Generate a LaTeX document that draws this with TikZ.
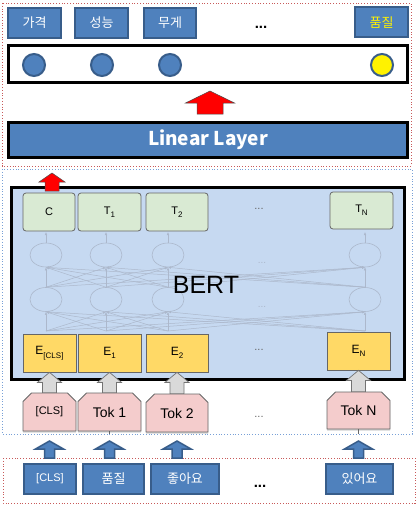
\documentclass[tikz,border=0pt]{standalone}
\usepackage{fontspec}
\setmainfont{Liberation Sans}
\newfontfamily\kor{Noto Sans CJK KR}
\usetikzlibrary{arrows.meta, calc, shapes.misc, shapes.geometric, shadows}

\definecolor{boxblue}{RGB}{79,129,189}
\definecolor{boxedge}{RGB}{56,93,138}
\definecolor{bertfill}{RGB}{198,217,241}
\definecolor{tgreen}{RGB}{217,234,211}
\definecolor{eyellow}{RGB}{255,217,102}
\definecolor{tokpink}{RGB}{244,204,204}
\definecolor{boxgrey}{RGB}{102,102,102}
\definecolor{netgrey}{RGB}{172,184,204}
\definecolor{arrowgrey}{RGB}{217,217,217}
\definecolor{framered}{RGB}{200,90,90}
\definecolor{frameblue}{RGB}{120,160,215}

% Lowered index for the token labels.
\newcommand{\lowidx}[1]{\raisebox{-0.55ex}{\fontsize{8}{8}\selectfont #1}}

% Fat upward arrow: style, base, tip, shaft half width, head half width, head length.
\newcommand{\blockup}[6]{%
    \path[#1] let \p1 = (#2), \p2 = (#3) in
        (\x1-#4, \y1) -- (\x1-#4, \y2-#6) -- (\x1-#5, \y2-#6) -- (\x1, \y2)
        -- (\x1+#5, \y2-#6) -- (\x1+#4, \y2-#6) -- (\x1+#4, \y1) -- cycle;
}

\begin{document}
\begin{tikzpicture}[%
        x = 1pt,
        y = -1pt,
        > = Latex,
        line join = miter,
        wordbox/.style = {%
            draw = boxedge,
            fill = boxblue,
            line width = 2pt,
            text = white,
            minimum height = 30pt,
            inner sep = 0pt,
            font = \kor\fontsize{13}{15}\selectfont
        },
        slot/.style = {circle, draw = boxedge, fill = boxblue, line width = 2pt,
            minimum size = 22pt, inner sep = 0pt},
        bigbar/.style = {draw = black, line width = 3pt, minimum width = 399pt, inner sep = 0pt},
        outbox/.style = {rounded corners = 3pt, draw = boxgrey, line width = 0.8pt, fill = tgreen,
            inner sep = 0pt, font = \fontsize{11}{13}\selectfont},
        embbox/.style = {draw = boxgrey, line width = 0.8pt, fill = eyellow,
            inner sep = 0pt, font = \fontsize{12}{14}\selectfont},
        tokbox/.style = {%
            chamfered rectangle,
            chamfered rectangle corners = {north west, north east},
            chamfered rectangle xsep = 5pt,
            draw = boxgrey,
            line width = 0.8pt,
            fill = tokpink,
            inner sep = 0pt,
            drop shadow = {shadow xshift = 0pt, shadow yshift = -1.5pt, opacity = 0.35},
            font = \fontsize{14}{16}\selectfont
        },
        netnode/.style = {ellipse, draw = netgrey, line width = 0.6pt,
            minimum width = 32pt, minimum height = 24pt, inner sep = 0pt},
        netline/.style = {draw = netgrey, line width = 0.5pt, -{Latex[length = 3pt, width = 2.5pt]}},
        redarrow/.style = {fill = red, draw = black!70, line width = 0.5pt},
        greyarrow/.style = {fill = arrowgrey, draw = black!55, line width = 0.7pt},
        bluearrow/.style = {fill = boxblue, draw = boxedge, line width = 1.5pt},
        gdots/.style = {text = black!60, font = \fontsize{11}{11}\selectfont},
        bdots/.style = {font = \bfseries\fontsize{15}{15}\selectfont}
    ]

        \begingroup

            \useasboundingbox (0, 0) rectangle (416, 511);

            % Coordinates
            \coordinate (redB) at (210, 114);
            \coordinate (redT) at (210, 91);
            \coordinate (clsB) at (52, 191);
            \coordinate (clsT) at (52, 173);
            \coordinate (wordTop) at (0, 458);
            \coordinate (arrTip) at (0, 441);
            \coordinate (midFoot) at (0, 434);

            % Dotted frames round the three parts.
            \draw[framered, dotted, line width = 0.8pt] (2, 3) rectangle (411, 166);
            \draw[frameblue, dotted, line width = 0.8pt] (2, 169) rectangle (412, 434);
            \draw[framered, dotted, line width = 0.8pt] (3, 458) rectangle (415, 503);

            % Class labels on top.
            \node[wordbox, minimum width = 53pt] (lab1) at (34.5, 23) {가격};
            \node[wordbox, minimum width = 53pt] (lab2) at (101.5, 23) {성능};
            \node[wordbox, minimum width = 52pt] (lab3) at (170, 23) {무게};
            \node[wordbox, minimum width = 53pt, text = yellow] (labN) at (381.5, 22.5) {품질};
            \node[bdots] (labdots) at (261, 27) {...};

            % Output layer with one slot per class.
            \node[bigbar, minimum height = 37pt, fill = white] (outrow) at (208, 64) {};
            \node[slot] (s1) at (34, 65) {};
            \node[slot] (s2) at (102, 65) {};
            \node[slot] (s3) at (170, 65) {};
            \node[slot, fill = yellow] (sN) at (382, 65) {};

            % Linear layer.
            \node[bigbar, minimum height = 35pt, fill = boxblue, text = white,
                font = \kor\bfseries\fontsize{19}{21}\selectfont] (lin) at (208, 140) {Linear Layer};
            \blockup{redarrow}{redB}{redT}{13pt}{24.5pt}{12pt}

            % BERT block.
            \node[draw = black, line width = 3pt, fill = bertfill, minimum width = 393pt,
                minimum height = 192pt, inner sep = 0pt] (bert) at (208, 283.5) {};

            % Faint layers inside BERT.
            \foreach \i/\cx in {1/46, 2/106, 3/168, 4/365} {
                \node[netnode] (h1\i) at (\cx, 255) {};
                \node[netnode] (h2\i) at (\cx, 299.5) {};
                \coordinate (in\i) at (\cx, 331);
                \coordinate (out\i) at (\cx, 232);
            }
            \foreach \i in {1, ..., 4} {
                \foreach \j in {1, ..., 4} {
                    \draw[netline] (in\j) -- (h2\i.south);
                    \draw[netline] (h2\j.north) -- (h1\i.south);
                }
                \draw[netline] (h1\i.north) -- (out\i);
            }
            \node[text = netgrey, font = \fontsize{10}{10}\selectfont] (ndots1) at (262, 263) {...};
            \node[text = netgrey, font = \fontsize{10}{10}\selectfont] (ndots2) at (262, 307) {...};
            \node[font = \fontsize{25}{25}\selectfont] (bertlab) at (206, 285) {BERT};

            % Output tokens.
            \node[outbox, minimum width = 52pt, minimum height = 38pt] (tC) at (49, 212) {C};
            \node[outbox, minimum width = 63pt, minimum height = 38pt] (t1) at (109.5, 212) {T\lowidx{1}};
            \node[outbox, minimum width = 62pt, minimum height = 38pt] (t2) at (177, 212) {T\lowidx{2}};
            \node[outbox, minimum width = 63pt, minimum height = 37pt] (tN) at (361.5, 210.5) {T\lowidx{N}};
            \node[gdots] (tdots) at (259, 209) {...};
            \blockup{redarrow}{clsB}{clsT}{7pt}{13pt}{9pt}

            % Input embeddings.
            \node[embbox, minimum width = 53pt, minimum height = 38pt] (e0) at (49.5, 353) {E\lowidx{[CLS]}};
            \node[embbox, minimum width = 63pt, minimum height = 38pt] (e1) at (109.5, 353) {E\lowidx{1}};
            \node[embbox, minimum width = 62pt, minimum height = 38pt] (e2) at (177, 353) {E\lowidx{2}};
            \node[embbox, minimum width = 63pt, minimum height = 38pt] (eN) at (358.5, 351) {E\lowidx{N}};
            \node[gdots] (edots) at (259, 350) {...};

            % Word pieces.
            \node[tokbox, minimum width = 53pt, minimum height = 38pt, font = \fontsize{11}{13}\selectfont] (tok0) at (49.5, 412) {[CLS]};
            \node[tokbox, minimum width = 63pt, minimum height = 38pt] (tok1) at (109.5, 412) {Tok 1};
            \node[tokbox, minimum width = 62pt, minimum height = 38pt] (tok2) at (177, 413) {Tok 2};
            \node[tokbox, minimum width = 63pt, minimum height = 37pt] (tokN) at (358.5, 410.5) {Tok N};
            \node[gdots] (tokdots) at (259, 417) {...};
            \draw[boxgrey, line width = 0.6pt] (tok1.south) -- (tok1.south |- midFoot);
            \draw[boxgrey, line width = 0.6pt] (tokN.south) -- (tokN.south |- midFoot);

            % Embedding arrows.
            \blockup{greyarrow}{tok0.north}{e0.south}{7pt}{12pt}{10pt}
            \blockup{greyarrow}{tok1.north}{e1.south}{7pt}{12pt}{10pt}
            \blockup{greyarrow}{tok2.north}{e2.south}{7pt}{12pt}{10pt}
            \blockup{greyarrow}{tokN.north}{eN.south}{7pt}{12pt}{10pt}

            % Input words.
            \node[wordbox, minimum width = 52pt, font = \fontsize{11}{13}\selectfont] (w0) at (50, 479) {[CLS]};
            \node[wordbox, minimum width = 61pt] (w1) at (113.5, 479) {품질};
            \node[wordbox, minimum width = 68pt] (w2) at (185, 479) {좋아요};
            \node[wordbox, minimum width = 67pt] (wN) at (359.5, 479) {있어요};
            \node[bdots] (wdots) at (260, 486) {...};

            % Arrows from the words to the word pieces.
            \blockup{bluearrow}{tok0.south |- wordTop}{tok0.south |- arrTip}{5pt}{14pt}{8pt}
            \blockup{bluearrow}{tok1.south |- wordTop}{tok1.south |- arrTip}{5pt}{14pt}{8pt}
            \blockup{bluearrow}{tok2.south |- wordTop}{tok2.south |- arrTip}{5pt}{14pt}{8pt}
            \blockup{bluearrow}{tokN.south |- wordTop}{tokN.south |- arrTip}{5pt}{14pt}{8pt}

        \endgroup
    \end{tikzpicture}
\end{document}
